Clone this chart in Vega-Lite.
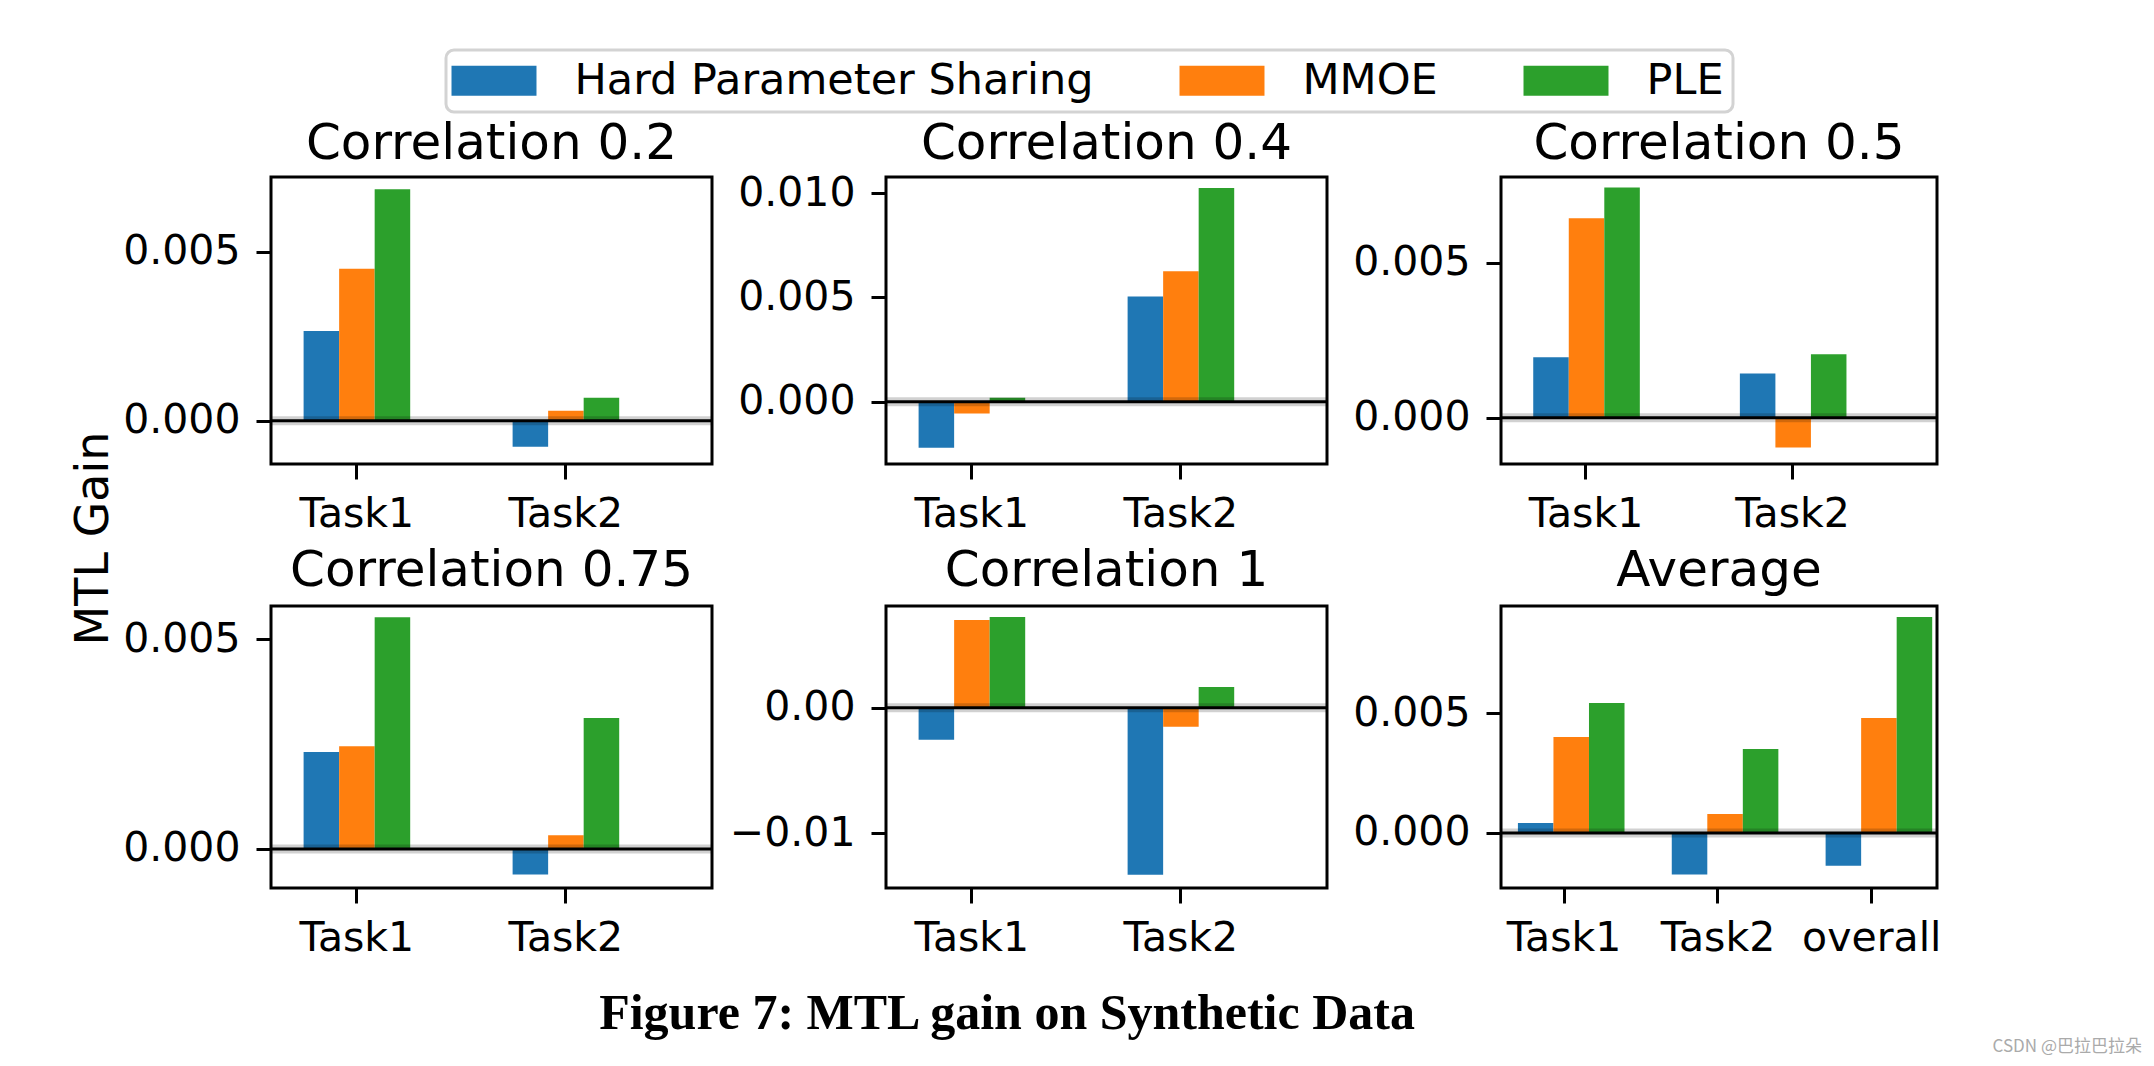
{
  "$schema": "https://vega.github.io/schema/vega-lite/v6.json",
  "background": "white",
  "padding": {"left": 71, "top": 48, "right": 6, "bottom": 4},
  "autosize": {"type": "pad"},
  "datasets": {
    "gains": [
      {"panel": "Correlation 0.2", "task": "Task1", "model": "Hard Parameter Sharing", "gain": 0.00266},
      {"panel": "Correlation 0.2", "task": "Task1", "model": "MMOE", "gain": 0.0045},
      {"panel": "Correlation 0.2", "task": "Task1", "model": "PLE", "gain": 0.00686},
      {"panel": "Correlation 0.2", "task": "Task2", "model": "Hard Parameter Sharing", "gain": -0.00077},
      {"panel": "Correlation 0.2", "task": "Task2", "model": "MMOE", "gain": 0.0003},
      {"panel": "Correlation 0.2", "task": "Task2", "model": "PLE", "gain": 0.00068},
      {"panel": "Correlation 0.4", "task": "Task1", "model": "Hard Parameter Sharing", "gain": -0.0022},
      {"panel": "Correlation 0.4", "task": "Task1", "model": "MMOE", "gain": -0.00056},
      {"panel": "Correlation 0.4", "task": "Task1", "model": "PLE", "gain": 0.00019},
      {"panel": "Correlation 0.4", "task": "Task2", "model": "Hard Parameter Sharing", "gain": 0.00505},
      {"panel": "Correlation 0.4", "task": "Task2", "model": "MMOE", "gain": 0.00625},
      {"panel": "Correlation 0.4", "task": "Task2", "model": "PLE", "gain": 0.01024},
      {"panel": "Correlation 0.5", "task": "Task1", "model": "Hard Parameter Sharing", "gain": 0.00195},
      {"panel": "Correlation 0.5", "task": "Task1", "model": "MMOE", "gain": 0.00643},
      {"panel": "Correlation 0.5", "task": "Task1", "model": "PLE", "gain": 0.00742},
      {"panel": "Correlation 0.5", "task": "Task2", "model": "Hard Parameter Sharing", "gain": 0.00143},
      {"panel": "Correlation 0.5", "task": "Task2", "model": "MMOE", "gain": -0.00096},
      {"panel": "Correlation 0.5", "task": "Task2", "model": "PLE", "gain": 0.00205},
      {"panel": "Correlation 0.75", "task": "Task1", "model": "Hard Parameter Sharing", "gain": 0.00231},
      {"panel": "Correlation 0.75", "task": "Task1", "model": "MMOE", "gain": 0.00245},
      {"panel": "Correlation 0.75", "task": "Task1", "model": "PLE", "gain": 0.00552},
      {"panel": "Correlation 0.75", "task": "Task2", "model": "Hard Parameter Sharing", "gain": -0.00061},
      {"panel": "Correlation 0.75", "task": "Task2", "model": "MMOE", "gain": 0.00033},
      {"panel": "Correlation 0.75", "task": "Task2", "model": "PLE", "gain": 0.00312},
      {"panel": "Correlation 1", "task": "Task1", "model": "Hard Parameter Sharing", "gain": -0.00255},
      {"panel": "Correlation 1", "task": "Task1", "model": "MMOE", "gain": 0.00698},
      {"panel": "Correlation 1", "task": "Task1", "model": "PLE", "gain": 0.00721},
      {"panel": "Correlation 1", "task": "Task2", "model": "Hard Parameter Sharing", "gain": -0.01328},
      {"panel": "Correlation 1", "task": "Task2", "model": "MMOE", "gain": -0.00151},
      {"panel": "Correlation 1", "task": "Task2", "model": "PLE", "gain": 0.00165},
      {"panel": "Average", "task": "Task1", "model": "Hard Parameter Sharing", "gain": 0.00042},
      {"panel": "Average", "task": "Task1", "model": "MMOE", "gain": 0.00401},
      {"panel": "Average", "task": "Task1", "model": "PLE", "gain": 0.00543},
      {"panel": "Average", "task": "Task2", "model": "Hard Parameter Sharing", "gain": -0.00174},
      {"panel": "Average", "task": "Task2", "model": "MMOE", "gain": 0.00079},
      {"panel": "Average", "task": "Task2", "model": "PLE", "gain": 0.00351},
      {"panel": "Average", "task": "overall", "model": "Hard Parameter Sharing", "gain": -0.00137},
      {"panel": "Average", "task": "overall", "model": "MMOE", "gain": 0.00481},
      {"panel": "Average", "task": "overall", "model": "PLE", "gain": 0.00903}
    ]
  },
  "title": {"text": "CSDN @巴拉巴拉朵", "orient": "bottom", "anchor": "end", "font": "Noto Sans CJK SC", "fontSize": 17, "fontWeight": "normal", "color": "#aaaaaa", "offset": 0, "baseline": "top", "frame": "bounds", "dx": 199},
  "vconcat": [
    {
      "title": {"text": "Figure 7: MTL gain on Synthetic Data", "orient": "bottom", "anchor": "middle", "font": "Liberation Serif", "fontSize": 50, "fontWeight": "bold", "color": "black", "offset": 29, "baseline": "top", "frame": "bounds"},
      "vconcat": [
        {
          "title": {"text": "MTL Gain", "orient": "left", "anchor": "middle", "font": "DejaVu Sans", "fontSize": 46, "fontWeight": "normal", "color": "black", "offset": 3, "frame": "bounds"},
          "spacing": 429,
          "bounds": "flush",
          "vconcat": [
            {
              "spacing": 174,
              "bounds": "flush",
              "hconcat": [
                {
                  "title": {"text": "Correlation 0.2", "offset": 8},
                  "width": 441, "height": 287,
                  "layer": [
                    {
                      "data": {"name": "gains"},
                      "transform": [{"filter": "datum.panel === 'Correlation 0.2'"}],
                      "mark": {"type": "bar"},
                      "encoding": {
                        "x": {"field": "task", "type": "nominal", "title": null, "scale": {"domain": ["Task1", "Task2"], "paddingInner": 0.49, "paddingOuter": 0.3, "align": 0.26}},
                        "xOffset": {"field": "model", "type": "nominal", "scale": {"domain": ["Hard Parameter Sharing", "MMOE", "PLE"], "paddingInner": 0, "paddingOuter": 0}},
                        "y": {"field": "gain", "type": "quantitative", "title": null, "scale": {"domain": [-0.00128, 0.00722], "nice": false}, "axis": {"values": [0, 0.005], "format": ".3f"}},
                        "color": {"field": "model", "type": "nominal", "title": null, "scale": {"domain": ["Hard Parameter Sharing", "MMOE", "PLE"], "range": ["#1f77b4", "#ff7f0e", "#2ca02c"]},
                          "legend": {"orient": "none", "legendX": 175, "legendY": -127, "direction": "horizontal", "title": null, "symbolType": "M-2.833,-1H2.833V1H-2.833Z", "symbolSize": 900, "symbolOffset": 17.5, "symbolStrokeWidth": 0, "symbolOpacity": 1, "labelFont": "DejaVu Sans", "labelFontSize": 43, "labelColor": "black", "labelLimit": 1000, "labelOffset": 59, "columnPadding": 85, "padding": 9, "strokeColor": "#d3d3d3", "cornerRadius": 8, "fillColor": "white"}}
                      }
                    },
                    {"data": {"values": [{}]}, "mark": {"type": "rule", "color": "black", "opacity": 0.18, "strokeWidth": 9}, "encoding": {"y": {"datum": 0}}},
                    {"data": {"values": [{}]}, "mark": {"type": "rule", "color": "black", "strokeWidth": 3}, "encoding": {"y": {"datum": 0}}}
                  ]
                },
                {
                  "title": {"text": "Correlation 0.4", "offset": 3},
                  "width": 441, "height": 287,
                  "layer": [
                    {
                      "data": {"name": "gains"},
                      "transform": [{"filter": "datum.panel === 'Correlation 0.4'"}],
                      "mark": {"type": "bar"},
                      "encoding": {
                        "x": {"field": "task", "type": "nominal", "title": null, "scale": {"domain": ["Task1", "Task2"], "paddingInner": 0.49, "paddingOuter": 0.3, "align": 0.26}},
                        "xOffset": {"field": "model", "type": "nominal", "scale": {"domain": ["Hard Parameter Sharing", "MMOE", "PLE"], "paddingInner": 0, "paddingOuter": 0}},
                        "y": {"field": "gain", "type": "quantitative", "title": null, "scale": {"domain": [-0.00298, 0.01077], "nice": false}, "axis": {"values": [0, 0.005, 0.01], "format": ".3f"}},
                        "color": {"field": "model", "type": "nominal", "title": null}
                      }
                    },
                    {"data": {"values": [{}]}, "mark": {"type": "rule", "color": "black", "opacity": 0.18, "strokeWidth": 9}, "encoding": {"y": {"datum": 0}}},
                    {"data": {"values": [{}]}, "mark": {"type": "rule", "color": "black", "strokeWidth": 3}, "encoding": {"y": {"datum": 0}}}
                  ]
                },
                {
                  "title": {"text": "Correlation 0.5", "offset": 8},
                  "width": 436, "height": 287,
                  "layer": [
                    {
                      "data": {"name": "gains"},
                      "transform": [{"filter": "datum.panel === 'Correlation 0.5'"}],
                      "mark": {"type": "bar"},
                      "encoding": {
                        "x": {"field": "task", "type": "nominal", "title": null, "scale": {"domain": ["Task1", "Task2"], "paddingInner": 0.49, "paddingOuter": 0.3, "align": 0.26}},
                        "xOffset": {"field": "model", "type": "nominal", "scale": {"domain": ["Hard Parameter Sharing", "MMOE", "PLE"], "paddingInner": 0, "paddingOuter": 0}},
                        "y": {"field": "gain", "type": "quantitative", "title": null, "scale": {"domain": [-0.00149, 0.00776], "nice": false}, "axis": {"values": [0, 0.005], "format": ".3f"}},
                        "color": {"field": "model", "type": "nominal", "title": null}
                      }
                    },
                    {"data": {"values": [{}]}, "mark": {"type": "rule", "color": "black", "opacity": 0.18, "strokeWidth": 9}, "encoding": {"y": {"datum": 0}}},
                    {"data": {"values": [{}]}, "mark": {"type": "rule", "color": "black", "strokeWidth": 3}, "encoding": {"y": {"datum": 0}}}
                  ]
                }
              ]
            },
            {
              "spacing": 174,
              "bounds": "flush",
              "hconcat": [
                {
                  "title": {"text": "Correlation 0.75", "offset": 10},
                  "width": 441, "height": 282,
                  "layer": [
                    {
                      "data": {"name": "gains"},
                      "transform": [{"filter": "datum.panel === 'Correlation 0.75'"}],
                      "mark": {"type": "bar"},
                      "encoding": {
                        "x": {"field": "task", "type": "nominal", "title": null, "scale": {"domain": ["Task1", "Task2"], "paddingInner": 0.49, "paddingOuter": 0.3, "align": 0.26}},
                        "xOffset": {"field": "model", "type": "nominal", "scale": {"domain": ["Hard Parameter Sharing", "MMOE", "PLE"], "paddingInner": 0, "paddingOuter": 0}},
                        "y": {"field": "gain", "type": "quantitative", "title": null, "scale": {"domain": [-0.00093, 0.00579], "nice": false}, "axis": {"values": [0, 0.005], "format": ".3f"}},
                        "color": {"field": "model", "type": "nominal", "title": null}
                      }
                    },
                    {"data": {"values": [{}]}, "mark": {"type": "rule", "color": "black", "opacity": 0.18, "strokeWidth": 9}, "encoding": {"y": {"datum": 0}}},
                    {"data": {"values": [{}]}, "mark": {"type": "rule", "color": "black", "strokeWidth": 3}, "encoding": {"y": {"datum": 0}}}
                  ]
                },
                {
                  "title": {"text": "Correlation 1", "offset": 10},
                  "width": 441, "height": 282,
                  "layer": [
                    {
                      "data": {"name": "gains"},
                      "transform": [{"filter": "datum.panel === 'Correlation 1'"}],
                      "mark": {"type": "bar"},
                      "encoding": {
                        "x": {"field": "task", "type": "nominal", "title": null, "scale": {"domain": ["Task1", "Task2"], "paddingInner": 0.49, "paddingOuter": 0.3, "align": 0.26}},
                        "xOffset": {"field": "model", "type": "nominal", "scale": {"domain": ["Hard Parameter Sharing", "MMOE", "PLE"], "paddingInner": 0, "paddingOuter": 0}},
                        "y": {"field": "gain", "type": "quantitative", "title": null, "scale": {"domain": [-0.01434, 0.00809], "nice": false}, "axis": {"values": [-0.01, 0], "format": ".2f"}},
                        "color": {"field": "model", "type": "nominal", "title": null}
                      }
                    },
                    {"data": {"values": [{}]}, "mark": {"type": "rule", "color": "black", "opacity": 0.18, "strokeWidth": 9}, "encoding": {"y": {"datum": 0}}},
                    {"data": {"values": [{}]}, "mark": {"type": "rule", "color": "black", "strokeWidth": 3}, "encoding": {"y": {"datum": 0}}}
                  ]
                },
                {
                  "title": {"text": "Average", "offset": 10},
                  "width": 436, "height": 282,
                  "layer": [
                    {
                      "data": {"name": "gains"},
                      "transform": [{"filter": "datum.panel === 'Average'"}],
                      "mark": {"type": "bar"},
                      "encoding": {
                        "x": {"field": "task", "type": "nominal", "title": null, "scale": {"domain": ["Task1", "Task2", "overall"], "paddingInner": 0.4, "paddingOuter": 0.117, "align": 0.47}},
                        "xOffset": {"field": "model", "type": "nominal", "scale": {"domain": ["Hard Parameter Sharing", "MMOE", "PLE"], "paddingInner": 0, "paddingOuter": 0}},
                        "y": {"field": "gain", "type": "quantitative", "title": null, "scale": {"domain": [-0.0023, 0.00949], "nice": false}, "axis": {"values": [0, 0.005], "format": ".3f"}},
                        "color": {"field": "model", "type": "nominal", "title": null}
                      }
                    },
                    {"data": {"values": [{}]}, "mark": {"type": "rule", "color": "black", "opacity": 0.18, "strokeWidth": 9}, "encoding": {"y": {"datum": 0}}},
                    {"data": {"values": [{}]}, "mark": {"type": "rule", "color": "black", "strokeWidth": 3}, "encoding": {"y": {"datum": 0}}}
                  ]
                }
              ]
            }
          ]
        }
      ]
    }
  ],
  "config": {
    "view": {"stroke": "black", "strokeWidth": 3},
    "bar": {"strokeWidth": 0},
    "legend": {"strokeWidth": 3},
    "axis": {"domain": false, "grid": false, "ticks": true, "tickColor": "black", "tickWidth": 3, "tickSize": 15, "labelFont": "DejaVu Sans", "labelFontSize": 41, "labelColor": "black", "labelOverlap": false},
    "axisX": {"labelAngle": 0, "labelPadding": 15},
    "axisY": {"labelPadding": 16},
    "title": {"font": "DejaVu Sans", "fontSize": 50, "fontWeight": "normal", "color": "black", "offset": 12, "baseline": "alphabetic", "anchor": "middle"}
  }
}
